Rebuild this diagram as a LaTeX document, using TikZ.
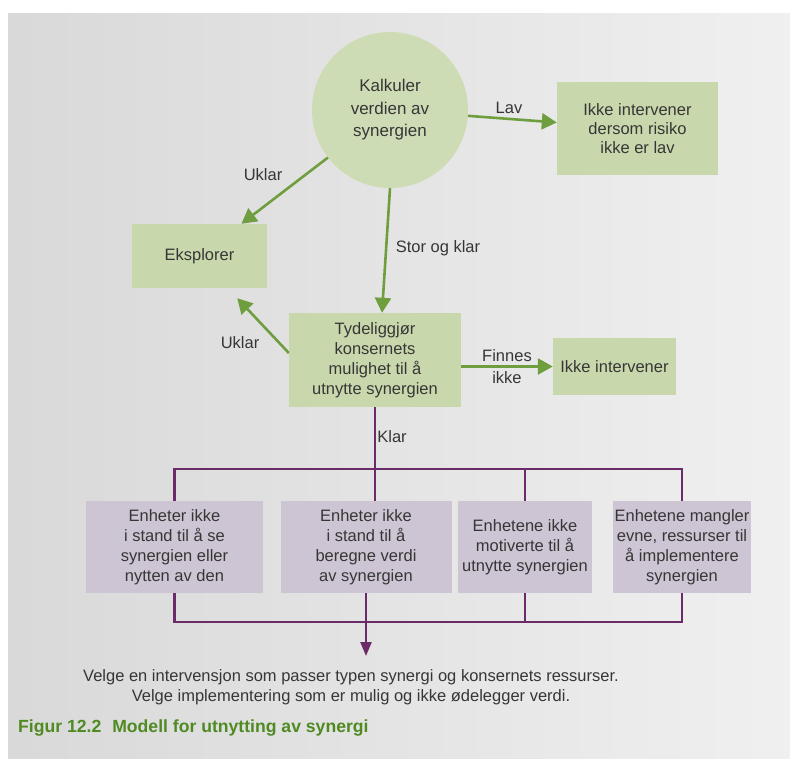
\documentclass[tikz,border=0pt]{standalone}
\usepackage{fontspec}
\setmainfont{Liberation Sans}
\usetikzlibrary{arrows.meta}
\definecolor{gfill}{HTML}{C9D8AC}
\definecolor{cfill}{HTML}{CEDCB5}
\definecolor{garr}{HTML}{6E9E3E}
\definecolor{pfill}{HTML}{CDC4D4}
\definecolor{pline}{HTML}{6B2A68}
\definecolor{txt}{HTML}{363636}
\definecolor{capg}{HTML}{4F8A22}
\tikzset{
  gbox/.style={rectangle, fill=gfill, inner sep=0pt, align=center, text=txt, font=\fontsize{16.5}{20}\selectfont},
  pbox/.style={rectangle, fill=pfill, inner sep=0pt, align=center, text=txt, minimum height=92pt, font=\fontsize{16.5}{20}\selectfont},
  garrow/.style={draw=garr, line width=2.6pt, -{Triangle[length=15pt,width=16pt]}},
  pconn/.style={draw=pline, line width=2.3pt},
  parrow/.style={draw=pline, line width=2.3pt, -{Triangle[length=14pt,width=11pt]}},
  lbl/.style={text=txt, inner sep=0pt, align=center, font=\fontsize{16.5}{22}\selectfont}
}
\begin{document}
\begin{tikzpicture}[x=1pt,y=-1pt]
\useasboundingbox (0,0) rectangle (790,758);
\fill[white] (0,0) rectangle (790,758);
\shade[left color=black!15, right color=black!6] (8,13) rectangle (790,758);
% nodes
\node[circle, fill=cfill, minimum size=156pt, inner sep=0pt, align=center, text=txt, font=\fontsize{17}{22.5}\selectfont] (calc) at (390,110) {Kalkuler\\verdien av\\synergien};
\node[gbox, minimum width=161pt, minimum height=93pt, font=\fontsize{16.5}{19}\selectfont] (risk) at (637.5,128.5) {Ikke intervener\\dersom risiko\\ikke er lav};
\node[gbox, minimum width=135pt, minimum height=64pt] (eksp) at (199.5,256) {Eksplorer};
\node[gbox, minimum width=172pt, minimum height=94pt] (tyd) at (375,360) {Tydeliggjør\\konsernets\\mulighet til å\\utnytte synergien};
\node[gbox, minimum width=123pt, minimum height=57pt] (ikke) at (614.5,366.5) {Ikke intervener};
\node[pbox, minimum width=177pt] (b1) at (174.5,547) {Enheter ikke\\i stand til å se\\synergien eller\\nytten av den};
\node[pbox, minimum width=171pt] (b2) at (366,547) {Enheter ikke\\i stand til å\\beregne verdi\\av synergien};
\node[pbox, minimum width=134pt] (b3) at (525,547) {Enhetene ikke\\motiverte til å\\utnytte synergien};
\node[pbox, minimum width=138pt] (b4) at (682,547) {Enhetene mangler\\evne, ressurser til\\å implementere\\synergien};
\node[anchor=north, inner sep=0pt, align=center, text=txt, font=\fontsize{16.5}{20}\selectfont] (out) at (351,669) {Velge en intervensjon som passer typen synergi og konsernets ressurser.\\Velge implementering som er mulig og ikke ødelegger verdi.};
\node[anchor=west, inner sep=0pt, text=capg, font=\bfseries\fontsize{17.6}{20}\selectfont] (cap) at (18,728) {Figur 12.2\hspace{11pt}Modell for utnytting av synergi};
% labels
\node[lbl] (lav) at (509,108) {Lav};
\node[lbl] (ukl1) at (263,175) {Uklar};
\node[lbl] (stor) at (438,248) {Stor og klar};
\node[lbl] (ukl2) at (240,343) {Uklar};
\node[lbl] (fin) at (507,367) {Finnes\\ikke};
\node[lbl] (klar) at (392,437) {Klar};
% green arrows
\draw[garrow] (calc) -- (risk);
\draw[garrow] (calc) -- (eksp);
\draw[garrow] (calc.south) -- ([xshift=7pt]tyd.north);
\draw[garrow] ([yshift=7pt]tyd.west) -- ([xshift=-30pt,yshift=-10pt]eksp.south east);
\draw[garrow] (tyd.east |- ikke.west) -- (ikke.west);
% purple connectors
\coordinate (bustop) at (0,469);
\coordinate (busbot) at (0,622);
\draw[pconn] (tyd.south) -- (tyd.south |- b2.north);
\draw[pconn] (b1.north) -- (b1.north |- bustop) -- (b4.north |- bustop) -- (b4.north);
\draw[pconn] (b3.north) -- (b3.north |- bustop);
\draw[pconn] (b1.south) -- (b1.south |- busbot) -- (b4.south |- busbot) -- (b4.south);
\draw[pconn] (b3.south) -- (b3.south |- busbot);
\draw[parrow] (b2.south) -- ([yshift=13pt]b2.south |- out.north);
\end{tikzpicture}
\end{document}
